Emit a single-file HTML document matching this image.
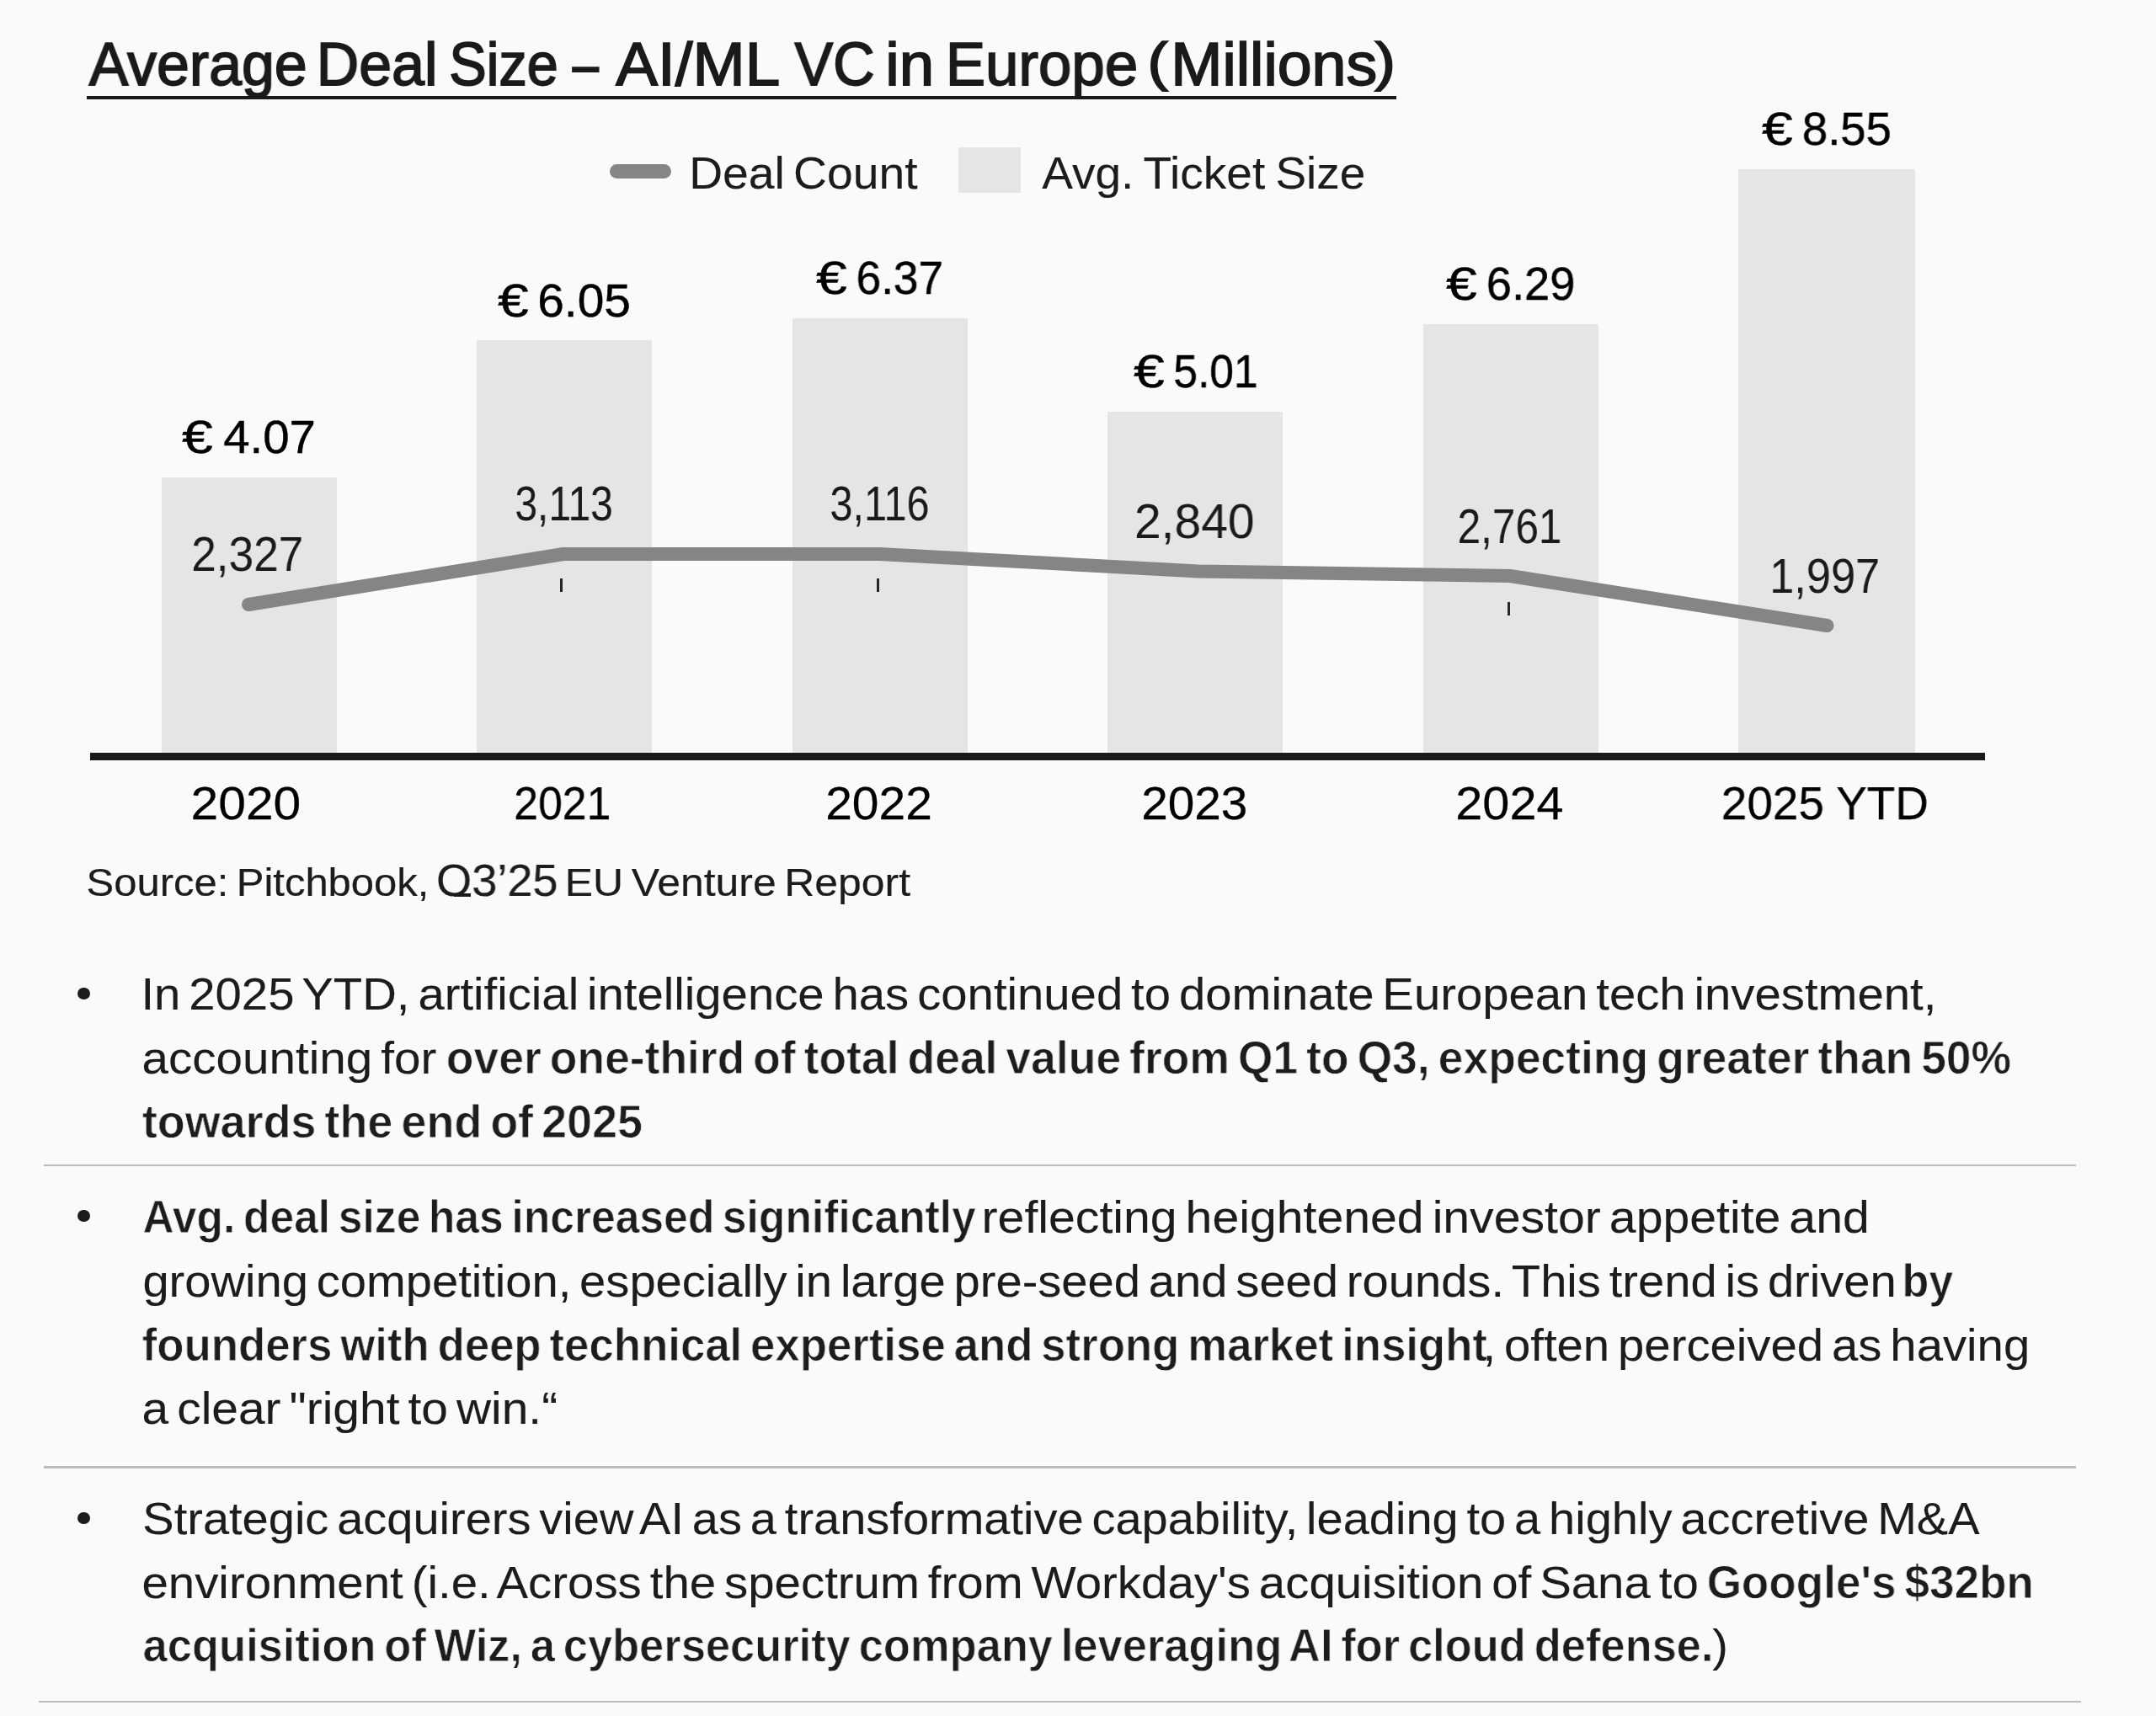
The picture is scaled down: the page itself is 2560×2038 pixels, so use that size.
<!DOCTYPE html>
<html><head><meta charset="utf-8"><title>Average Deal Size</title>
<style>
html,body{margin:0;padding:0;}
body{width:2560px;height:2038px;background:#fafaf8;position:relative;overflow:hidden;font-family:"Liberation Sans",sans-serif;}
.t{position:absolute;white-space:pre;line-height:1.5;padding:0 10px;transform-origin:0 0;will-change:transform;}
.bar{position:absolute;background:#e5e5e5;}
.sep{position:absolute;height:2.6px;background:#bcbcba;}
.dot{position:absolute;width:14.4px;height:14.4px;border-radius:50%;background:#1c1c1c;}
.tick{position:absolute;width:3px;height:16.5px;background:#262626;}
</style></head><body>

<div class="bar" style="left:192px;top:566.5px;width:208px;height:327.5px"></div>
<div class="bar" style="left:566px;top:403.5px;width:208px;height:490.5px"></div>
<div class="bar" style="left:941px;top:378px;width:208px;height:516px"></div>
<div class="bar" style="left:1314.5px;top:489px;width:208px;height:405px"></div>
<div class="bar" style="left:1690px;top:385px;width:208px;height:509px"></div>
<div class="bar" style="left:2064px;top:201px;width:209.5px;height:693px"></div>
<div style="position:absolute;left:107px;top:893.7px;width:2249.5px;height:9px;background:#1a1a1a"></div>
<div style="position:absolute;left:103px;top:114.3px;width:1554.8px;height:4.1px;background:#1a1a1a"></div>
<div style="position:absolute;left:723.5px;top:194.5px;width:73px;height:17px;border-radius:8.5px;background:#858583"></div>
<div style="position:absolute;left:1137.5px;top:174.5px;width:74.5px;height:54.5px;background:#e5e5e5"></div>
<svg style="position:absolute;left:0;top:0" width="2560" height="2038" viewBox="0 0 2560 2038"><path d="M295 718 L669 658 L1044 658 L1423 678.5 L1793 684 L2169.5 743" fill="none" stroke="#858583" stroke-width="16" stroke-linecap="round" stroke-linejoin="round"/></svg>
<div class="tick" style="left:665.2px;top:686.7px"></div>
<div class="tick" style="left:1040.7px;top:686.7px"></div>
<div class="tick" style="left:1790.2px;top:714.5px"></div>
<div style="position:absolute;left:539px;top:1060.6px;width:19.5px;height:4px;background:#1c1c1c"></div>
<div class="sep" style="left:52px;top:1382.6px;width:2412.5px"></div>
<div class="sep" style="left:52px;top:1741.4px;width:2412.5px"></div>
<div class="sep" style="left:46px;top:2019.8px;width:2424.5px"></div>
<div class="dot" style="left:92.4px;top:1172.8px"></div>
<div class="dot" style="left:92.4px;top:1437.0px"></div>
<div class="dot" style="left:92.4px;top:1795.8px"></div>
<div class="t" style="left:95.76px;top:22.00px;font-size:72px;color:#1a1a1a;transform:scaleX(0.9707);-webkit-text-stroke:1.75px #1a1a1a;">Average</div>
<div class="t" style="left:366.23px;top:22.00px;font-size:72px;color:#1a1a1a;transform:scaleX(0.9712);-webkit-text-stroke:1.75px #1a1a1a;">Deal</div>
<div class="t" style="left:524.21px;top:22.00px;font-size:72px;color:#1a1a1a;transform:scaleX(0.9243);-webkit-text-stroke:1.75px #1a1a1a;">Size</div>
<div class="t" style="left:672.31px;top:22.00px;font-size:72px;color:#1a1a1a;transform:scaleX(0.7762);-webkit-text-stroke:1.75px #1a1a1a;">–</div>
<div class="t" style="left:721.47px;top:22.00px;font-size:72px;color:#1a1a1a;transform:scaleX(1.0362);-webkit-text-stroke:1.75px #1a1a1a;">AI/ML</div>
<div class="t" style="left:934.35px;top:22.00px;font-size:72px;color:#1a1a1a;transform:scaleX(0.9505);-webkit-text-stroke:1.75px #1a1a1a;">VC</div>
<div class="t" style="left:1041.13px;top:22.00px;font-size:72px;color:#1a1a1a;transform:scaleX(1.0333);-webkit-text-stroke:1.75px #1a1a1a;">in</div>
<div class="t" style="left:1112.55px;top:22.00px;font-size:72px;color:#1a1a1a;transform:scaleX(0.9831);-webkit-text-stroke:1.75px #1a1a1a;">Europe</div>
<div class="t" style="left:1380.19px;top:22.00px;font-size:72px;color:#1a1a1a;transform:scaleX(1.0206);-webkit-text-stroke:1.75px #1a1a1a;">Millions</div>
<div class="t" style="left:1350.95px;top:26.00px;font-size:63.2px;color:#1a1a1a;transform:scaleX(1.1579);-webkit-text-stroke:1.75px #1a1a1a;">(</div>
<div class="t" style="left:1620.58px;top:26.00px;font-size:63.2px;color:#1a1a1a;transform:scaleX(1.1579);-webkit-text-stroke:1.75px #1a1a1a;">)</div>
<div class="t" style="left:807.68px;top:165.00px;font-size:54px;color:#1c1c1c;transform:scaleX(1.0230);word-spacing:-5px;-webkit-text-stroke:0.1px #1c1c1c;">Deal Count</div>
<div class="t" style="left:1226.81px;top:165.00px;font-size:54px;color:#1c1c1c;transform:scaleX(1.0187);word-spacing:-3px;-webkit-text-stroke:0.1px #1c1c1c;">Avg. Ticket Size</div>
<div class="t" style="left:204.03px;top:478.00px;font-size:55.6px;color:#000;transform:scaleX(1.1967);-webkit-text-stroke:0.4px #000;">€</div>
<div class="t" style="left:254.84px;top:478.00px;font-size:55.6px;color:#000;transform:scaleX(1.0143);-webkit-text-stroke:0.45px #000;">4.07</div>
<div class="t" style="left:578.63px;top:316.00px;font-size:55.6px;color:#000;transform:scaleX(1.1967);-webkit-text-stroke:0.4px #000;">€</div>
<div class="t" style="left:628.32px;top:316.00px;font-size:55.6px;color:#000;transform:scaleX(1.0231);-webkit-text-stroke:0.45px #000;">6.05</div>
<div class="t" style="left:956.53px;top:289.00px;font-size:55.6px;color:#000;transform:scaleX(1.1967);-webkit-text-stroke:0.4px #000;">€</div>
<div class="t" style="left:1007.02px;top:289.00px;font-size:55.6px;color:#000;transform:scaleX(0.9567);-webkit-text-stroke:0.45px #000;">6.37</div>
<div class="t" style="left:1333.53px;top:400.00px;font-size:55.6px;color:#000;transform:scaleX(1.1967);-webkit-text-stroke:0.4px #000;">€</div>
<div class="t" style="left:1384.37px;top:400.00px;font-size:55.6px;color:#000;transform:scaleX(0.9279);-webkit-text-stroke:0.45px #000;">5.01</div>
<div class="t" style="left:1704.53px;top:296.00px;font-size:55.6px;color:#000;transform:scaleX(1.1967);-webkit-text-stroke:0.4px #000;">€</div>
<div class="t" style="left:1754.79px;top:296.00px;font-size:55.6px;color:#000;transform:scaleX(0.9760);-webkit-text-stroke:0.45px #000;">6.29</div>
<div class="t" style="left:2080.03px;top:112.00px;font-size:55.6px;color:#000;transform:scaleX(1.1967);-webkit-text-stroke:0.4px #000;">€</div>
<div class="t" style="left:2130.23px;top:112.00px;font-size:55.6px;color:#000;transform:scaleX(0.9808);-webkit-text-stroke:0.45px #000;">8.55</div>
<div class="t" style="left:217.94px;top:616.00px;font-size:57.3px;color:#1a1a1a;transform:scaleX(0.9275);">2,327</div>
<div class="t" style="left:602.96px;top:556.00px;font-size:57.3px;color:#1a1a1a;transform:scaleX(0.8370);">3,113</div>
<div class="t" style="left:977.32px;top:556.00px;font-size:57.3px;color:#1a1a1a;transform:scaleX(0.8481);">3,116</div>
<div class="t" style="left:1336.77px;top:577.00px;font-size:57.3px;color:#1a1a1a;transform:scaleX(0.9949);">2,840</div>
<div class="t" style="left:1722.18px;top:583.00px;font-size:57.3px;color:#1a1a1a;transform:scaleX(0.8630);">2,761</div>
<div class="t" style="left:2092.21px;top:642.00px;font-size:57.3px;color:#1a1a1a;transform:scaleX(0.9139);">1,997</div>
<div class="t" style="left:216.35px;top:912.00px;font-size:56px;color:#000;transform:scaleX(1.0500);-webkit-text-stroke:0.25px #000;">2020</div>
<div class="t" style="left:600.89px;top:912.00px;font-size:56px;color:#000;transform:scaleX(0.9235);-webkit-text-stroke:0.25px #000;">2021</div>
<div class="t" style="left:969.78px;top:912.00px;font-size:56px;color:#000;transform:scaleX(1.0168);-webkit-text-stroke:0.25px #000;">2022</div>
<div class="t" style="left:1345.13px;top:912.00px;font-size:56px;color:#000;transform:scaleX(1.0134);-webkit-text-stroke:0.25px #000;">2023</div>
<div class="t" style="left:1717.62px;top:912.00px;font-size:56px;color:#000;transform:scaleX(1.0292);-webkit-text-stroke:0.25px #000;">2024</div>
<div class="t" style="left:2034.26px;top:912.00px;font-size:56px;color:#000;transform:scaleX(0.9797);-webkit-text-stroke:0.25px #000;">2025 YTD</div>
<div class="t" style="left:92.28px;top:1014.00px;font-size:46.2px;color:#1c1c1c;transform:scaleX(1.0603);word-spacing:-4px;-webkit-text-stroke:0.2px #1c1c1c;">Source: Pitchbook,</div>
<div class="t" style="left:508.06px;top:1005.00px;font-size:54.5px;color:#1c1c1c;transform:scaleX(0.9950);-webkit-text-stroke:0.15px #1c1c1c;">O3’25</div>
<div class="t" style="left:659.67px;top:1014.00px;font-size:46.2px;color:#1c1c1c;transform:scaleX(1.0805);word-spacing:-4px;-webkit-text-stroke:0.2px #1c1c1c;">EU Venture Report</div>
<div class="t" style="left:157.17px;top:1140.00px;font-size:54px;color:#1c1c1c;transform:scaleX(1.0421);word-spacing:-5.5px;-webkit-text-stroke:0.1px #1c1c1c;">In 2025 YTD, artificial intelligence has continued to dominate European tech investment,</div>
<div class="t" style="left:158.42px;top:1216.00px;font-size:54px;color:#1c1c1c;transform:scaleX(1.0483);word-spacing:-5.5px;-webkit-text-stroke:0.1px #1c1c1c;">accounting for</div>
<div class="t" style="left:519.82px;top:1215.00px;font-size:54.8px;color:#1c1c1c;transform:scaleX(0.9755);font-weight:700;word-spacing:-5px;-webkit-text-stroke:0.8px #fafaf8;">over one-third of total deal value from Q1 to Q3, expecting greater than 50%</div>
<div class="t" style="left:159.18px;top:1291.00px;font-size:54.8px;color:#1c1c1c;transform:scaleX(0.9834);font-weight:700;word-spacing:-5px;-webkit-text-stroke:0.8px #fafaf8;">towards the end of 2025</div>
<div class="t" style="left:159.70px;top:1404.00px;font-size:54.8px;color:#1c1c1c;transform:scaleX(0.9413);font-weight:700;word-spacing:-5px;-webkit-text-stroke:0.8px #fafaf8;">Avg. deal size has increased significantly</div>
<div class="t" style="left:1155.18px;top:1405.00px;font-size:54px;color:#1c1c1c;transform:scaleX(1.0587);word-spacing:-5.5px;-webkit-text-stroke:0.1px #1c1c1c;">reflecting heightened investor appetite and</div>
<div class="t" style="left:158.53px;top:1481.00px;font-size:54px;color:#1c1c1c;transform:scaleX(1.0390);word-spacing:-5.5px;-webkit-text-stroke:0.1px #1c1c1c;">growing competition, especially in large pre-seed and seed rounds. This trend is driven</div>
<div class="t" style="left:2248.71px;top:1480.00px;font-size:54.8px;color:#1c1c1c;transform:scaleX(0.9492);font-weight:700;word-spacing:-5px;-webkit-text-stroke:0.8px #fafaf8;">by</div>
<div class="t" style="left:159.01px;top:1556.00px;font-size:54.8px;color:#1c1c1c;transform:scaleX(0.9628);font-weight:700;word-spacing:-5px;-webkit-text-stroke:0.8px #fafaf8;">founders with deep technical expertise and strong market insight</div>
<div class="t" style="left:1750.37px;top:1557.00px;font-size:54px;color:#1c1c1c;transform:scaleX(1.0423);word-spacing:-5.5px;-webkit-text-stroke:0.1px #1c1c1c;">, often perceived as having</div>
<div class="t" style="left:158.35px;top:1632.00px;font-size:54px;color:#1c1c1c;transform:scaleX(1.0539);word-spacing:-5.5px;-webkit-text-stroke:0.1px #1c1c1c;">a clear "right to win.“</div>
<div class="t" style="left:158.56px;top:1763.00px;font-size:54px;color:#1c1c1c;transform:scaleX(1.0369);word-spacing:-5.5px;-webkit-text-stroke:0.1px #1c1c1c;">Strategic acquirers view AI as a transformative capability, leading to a highly accretive M&amp;A</div>
<div class="t" style="left:158.47px;top:1839.00px;font-size:54px;color:#1c1c1c;transform:scaleX(1.0442);word-spacing:-5.5px;-webkit-text-stroke:0.1px #1c1c1c;">environment (i.e. Across the spectrum from Workday's acquisition of Sana to</div>
<div class="t" style="left:2016.91px;top:1838.00px;font-size:54.8px;color:#1c1c1c;transform:scaleX(0.9683);font-weight:700;word-spacing:-5px;-webkit-text-stroke:0.8px #fafaf8;">Google's $32bn</div>
<div class="t" style="left:159.51px;top:1913.00px;font-size:54.8px;color:#1c1c1c;transform:scaleX(0.9573);font-weight:700;word-spacing:-5px;-webkit-text-stroke:0.8px #fafaf8;">acquisition of Wiz, a cybersecurity company leveraging AI for cloud defense.</div>
<div class="t" style="left:2023.11px;top:1914.00px;font-size:54px;color:#1c1c1c;transform:scaleX(1.0357);word-spacing:-5.5px;-webkit-text-stroke:0.1px #1c1c1c;">)</div>
</body></html>
